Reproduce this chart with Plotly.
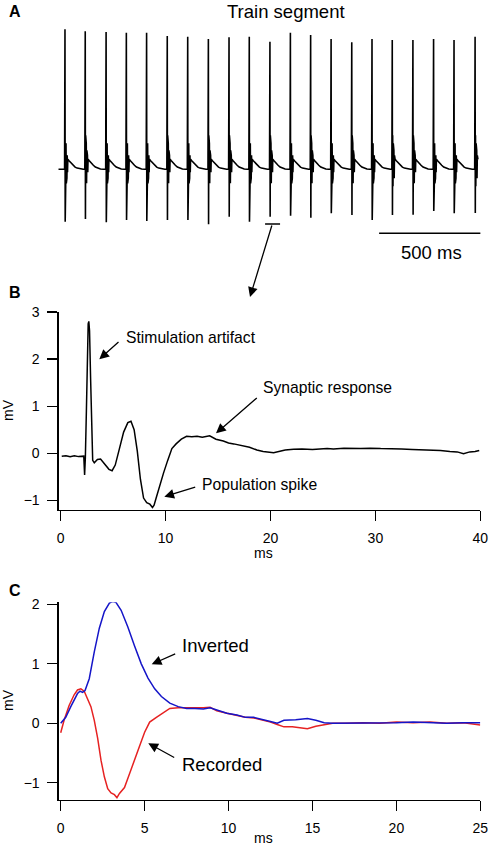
import plotly.graph_objects as go

W, H = 490, 847
FONT = "Arial, Liberation Sans, sans-serif"

# ---------------- Panel A data (train segment) ----------------
spike_times_ms = [33, 133, 236, 336, 436, 538, 639, 741, 843, 943, 1045,
                  1146, 1246, 1347, 1449, 1549, 1649, 1751, 1853, 1954, 2058]
spike_tops = [14.0, 13.8, 13.73, 13.66, 13.66, 13.33, 13.26, 13.03, 13.2, 13.26, 12.76,
              13.66, 13.43, 13.03, 12.7, 13.03, 12.93, 12.93, 13.03, 12.93, 13.26]
spike_bottoms = [-5.24, -4.97, -5.3, -5.07, -5.17, -5.07, -5.07, -5.5, -4.74, -5.24, -4.74,
                 -4.64, -4.84, -4.4, -4.57, -5.07, -4.57, -4.54, -4.17, -4.4, -4.37]
# post-stimulus response shape (offset in ms after each stimulus, value)
resp_offsets = [2, 3.5, 5, 6.5, 8, 9.5, 11, 12.5, 14, 20, 30, 40, 50, 60, 75, 90]
resp_values = [3.4, -1.7, 2.6, -1.4, 1.9, -0.9, 1.4, -0.3, 1.0, 0.85, 0.6, 0.4, 0.22, 0.12, 0.03, 0.0]
train_end_ms = 2077

# ---------------- Panel B data ----------------
b_t = [0.1, 0.5, 0.9, 1.3, 1.7, 2.1, 2.2, 2.28, 2.35, 2.45, 2.55, 2.62, 2.68, 2.75, 2.85,
       2.95, 3.05, 3.2, 3.5, 3.8, 4.2, 4.6, 4.9, 5.2, 5.6, 6.0, 6.4, 6.7, 7.0, 7.3, 7.6,
       7.9, 8.2, 8.5, 8.75, 8.9, 9.1, 9.4, 9.8, 10.2, 10.6, 11.0, 11.5, 12.0, 12.5, 13.0,
       13.5, 14.2, 14.8, 15.5, 16.0, 16.5, 17.0, 17.5, 18.0, 18.7, 19.3, 20.3, 20.8, 21.4,
       22.2, 23, 24, 25.4, 26, 27, 28.6, 29.5, 30.5, 31.7, 32.5, 33.5, 34.9, 35.5, 36.2,
       37.1, 37.8, 38.4, 39.0, 39.5, 39.9]
b_v = [-0.06, -0.05, -0.07, -0.05, -0.07, -0.05, -0.06, -0.46, -0.1, 0.9, 2.3, 2.75, 2.8, 2.6, 1.6,
       0.4, -0.15, -0.2, -0.13, -0.12, -0.22, -0.34, -0.37, -0.25, 0.1, 0.45, 0.65, 0.68, 0.5, 0.05, -0.55,
       -0.95, -1.05, -1.08, -1.15, -1.1, -0.95, -0.7, -0.42, -0.15, 0.1, 0.2, 0.3, 0.36, 0.35, 0.36,
       0.34, 0.37, 0.3, 0.26, 0.22, 0.2, 0.18, 0.15, 0.13, 0.07, 0.04, 0.01, 0.04, 0.07,
       0.085, 0.09, 0.08, 0.1, 0.09, 0.11, 0.1, 0.11, 0.1, 0.1, 0.09, 0.08, 0.07, 0.08, 0.06,
       0.04, 0.03, -0.01, 0.03, 0.04, 0.06]

# ---------------- Panel C data ----------------
inv_t = [0.0, 0.3, 0.6, 0.85, 1.0, 1.15, 1.3, 1.45, 1.7, 2.0, 2.3, 2.6, 2.9, 3.1, 3.3, 3.6,
         4.0, 4.4, 4.8, 5.2, 5.6, 6.0, 6.5, 7.0, 7.5, 8.0, 8.5, 8.9, 9.3, 9.9, 10.5, 11.0,
         11.5, 12.0, 12.5, 12.9, 13.3, 14.0, 14.7, 15.2, 15.7, 16.2, 17, 18, 19, 20, 21, 22,
         23, 24, 25]
inv_v = [0.0, 0.1, 0.28, 0.42, 0.5, 0.54, 0.52, 0.55, 0.75, 1.2, 1.6, 1.88, 2.02, 2.05, 2.03, 1.9,
         1.62, 1.3, 1.0, 0.76, 0.58, 0.45, 0.34, 0.28, 0.25, 0.25, 0.24, 0.26, 0.22, 0.17, 0.14, 0.1,
         0.1, 0.07, 0.03, 0.0, 0.05, 0.06, 0.08, 0.05, 0.01, 0.0, 0.0, 0.01, 0.0, 0.01, 0.02, 0.01,
         0.0, 0.01, 0.01]
rec_t = [0.0, 0.2, 0.5, 0.8, 1.0, 1.2, 1.4, 1.6, 1.8, 2.0, 2.2, 2.4, 2.6, 2.8, 3.0, 3.2,
         3.35, 3.5, 3.8, 4.1, 4.4, 4.7, 5.0, 5.3, 5.7, 6.1, 6.5, 7.0, 7.5, 8.0, 8.5, 8.9,
         9.3, 9.9, 10.5, 11.0, 11.5, 12.0, 12.5, 12.9, 13.3, 13.8, 14.3, 14.7, 15.2, 15.7,
         16.2, 17, 18, 19, 20, 21, 22, 23, 24, 25]
rec_v = [-0.16, 0.05, 0.3, 0.48, 0.56, 0.58, 0.54, 0.42, 0.28, 0.05, -0.25, -0.62, -0.9, -1.1, -1.17, -1.2,
         -1.25, -1.18, -1.08, -0.85, -0.6, -0.38, -0.15, 0.02, 0.1, 0.17, 0.25, 0.26, 0.26, 0.25, 0.26, 0.27,
         0.21, 0.17, 0.13, 0.1, 0.09, 0.06, 0.02, -0.02, -0.06, -0.06, -0.07, -0.09, -0.05, -0.02,
         0.0, 0.0, 0.01, 0.0, 0.02, 0.01, 0.02, 0.0, 0.01, -0.03]

b_xticks = [0, 10, 20, 30, 40]
b_yticks = [-1, 0, 1, 2, 3]
c_xticks = [0, 5, 10, 15, 20, 25]
c_yticks = [-1, 0, 1, 2]

# ---------------- build the panel A trace from the arrays ----------------
a_t, a_v = [0.0], [0.0]
for i, ts in enumerate(spike_times_ms):
    nxt = spike_times_ms[i + 1] if i + 1 < len(spike_times_ms) else None
    pts = [(ts - 2, 0.0), (ts, spike_tops[i]), (ts + 1, spike_bottoms[i])]
    pts += [(ts + o, v) for o, v in zip(resp_offsets, resp_values)]
    for t, v in pts:
        if t > train_end_ms:
            break
        if nxt is not None and t >= nxt - 2:
            break
        a_t.append(t)
        a_v.append(v)


def px(x):
    return x / W


def py(y):
    return 1 - y / H


fig = go.Figure()
fig.add_trace(go.Scatter(x=a_t, y=a_v, mode="lines", line=dict(color="black", width=1.6),
                         xaxis="x", yaxis="y", showlegend=False, hoverinfo="skip"))
fig.add_trace(go.Scatter(x=b_t, y=b_v, mode="lines", line=dict(color="black", width=1.5),
                         xaxis="x2", yaxis="y2", showlegend=False))
fig.add_trace(go.Scatter(x=rec_t, y=rec_v, mode="lines", line=dict(color="#e62222", width=1.5),
                         xaxis="x3", yaxis="y3", name="Recorded", showlegend=False))
fig.add_trace(go.Scatter(x=inv_t, y=inv_v, mode="lines", line=dict(color="#1515c8", width=1.5),
                         xaxis="x3", yaxis="y3", name="Inverted", showlegend=False))

axis_common = dict(showline=True, linecolor="black", linewidth=1.3, ticks="outside",
                   ticklen=10, tickwidth=1.3, tickcolor="black", showgrid=False,
                   zeroline=False, tickfont=dict(family=FONT, size=14, color="black"),
                   ticklabelstandoff=5, automargin=False)

fig.update_layout(
    width=W, height=H, autosize=False, margin=dict(l=0, r=0, t=0, b=0, pad=0),
    paper_bgcolor="white", plot_bgcolor="white", hovermode=False,
    font=dict(family=FONT, color="black"),
    xaxis=dict(domain=[px(58.3), px(483.6)], range=[0, 2100], visible=False, anchor="y"),
    yaxis=dict(domain=[py(240), py(25)], range=[-7.07, 14.43], visible=False, anchor="x"),
    xaxis2=dict(domain=[px(58.7), px(480.3)], range=[-0.19, 40], anchor="y2",
                tickvals=b_xticks, **axis_common),
    yaxis2=dict(domain=[py(509.7), py(311.7)], range=[-1.197, 3.006], anchor="x2",
                tickvals=b_yticks, **axis_common),
    xaxis3=dict(domain=[px(58.7), px(480.3)], range=[-0.12, 25], anchor="y3",
                tickvals=c_xticks, **axis_common),
    yaxis3=dict(domain=[py(799.7), py(602.3)], range=[-1.285, 2.035], anchor="x3",
                tickvals=c_yticks, **axis_common),
)

# scale bar and segment marker in panel A
fig.add_shape(type="line", xref="x", yref="y", x0=1584, x1=2084, y0=-6.4, y1=-6.4,
              line=dict(color="black", width=1.5))
fig.add_shape(type="line", xref="x", yref="y", x0=1021, x1=1095, y0=-5.47, y1=-5.47,
              line=dict(color="black", width=1.5))

anns = []


def text(x, y, s, size, bold=False, xanchor="left", angle=0):
    anns.append(dict(xref="paper", yref="paper", x=px(x), y=py(y), text=("<b>%s</b>" % s) if bold else s,
                     showarrow=False, xanchor=xanchor, yanchor="middle", textangle=angle,
                     font=dict(family=FONT, size=size, color="black")))


def arrow(hx, hy, tx, ty):
    anns.append(dict(xref="paper", yref="paper", x=px(hx), y=py(hy), ax=tx - hx, ay=ty - hy,
                     axref="pixel", ayref="pixel", text="", showarrow=True, arrowhead=2,
                     arrowsize=1.5, arrowwidth=1.3, arrowcolor="black"))


text(15, 11, "A", 16, bold=True, xanchor="center")
text(15, 292, "B", 16, bold=True, xanchor="center")
text(15, 590, "C", 16, bold=True, xanchor="center")
text(286, 11, "Train segment", 18.5, xanchor="center")
text(431, 252, "500 ms", 18.5, xanchor="center")
arrow(250, 297, 272.3, 224)

text(124, 337, "Stimulation artifact", 15.7)
arrow(99.3, 359.3, 120, 340.7)
text(261, 387.5, "Synaptic response", 15.7)
arrow(216, 433.3, 258.3, 396.7)
text(200, 484.5, "Population spike", 15.7)
arrow(164.3, 496.7, 196.7, 486.7)
text(8, 410, "mV", 14, xanchor="center", angle=-90)
text(263.3, 552.7, "ms", 14, xanchor="center")

text(180, 645, "Inverted", 18.5)
arrow(151.7, 664.3, 176.7, 653.3)
text(180, 764, "Recorded", 18.5)
arrow(148.3, 743.3, 175.7, 758.3)
text(8, 700, "mV", 14, xanchor="center", angle=-90)
text(263.3, 838, "ms", 14, xanchor="center")

fig.update_layout(annotations=anns)
# the page body has a default 8px margin; remove it so the 490x847 figure fills the window exactly
fig.write_html("out.html",
               config={"displayModeBar": False, "staticPlot": True},
               post_script="document.body.style.margin='0';"
                           "document.documentElement.style.overflow='hidden';")
